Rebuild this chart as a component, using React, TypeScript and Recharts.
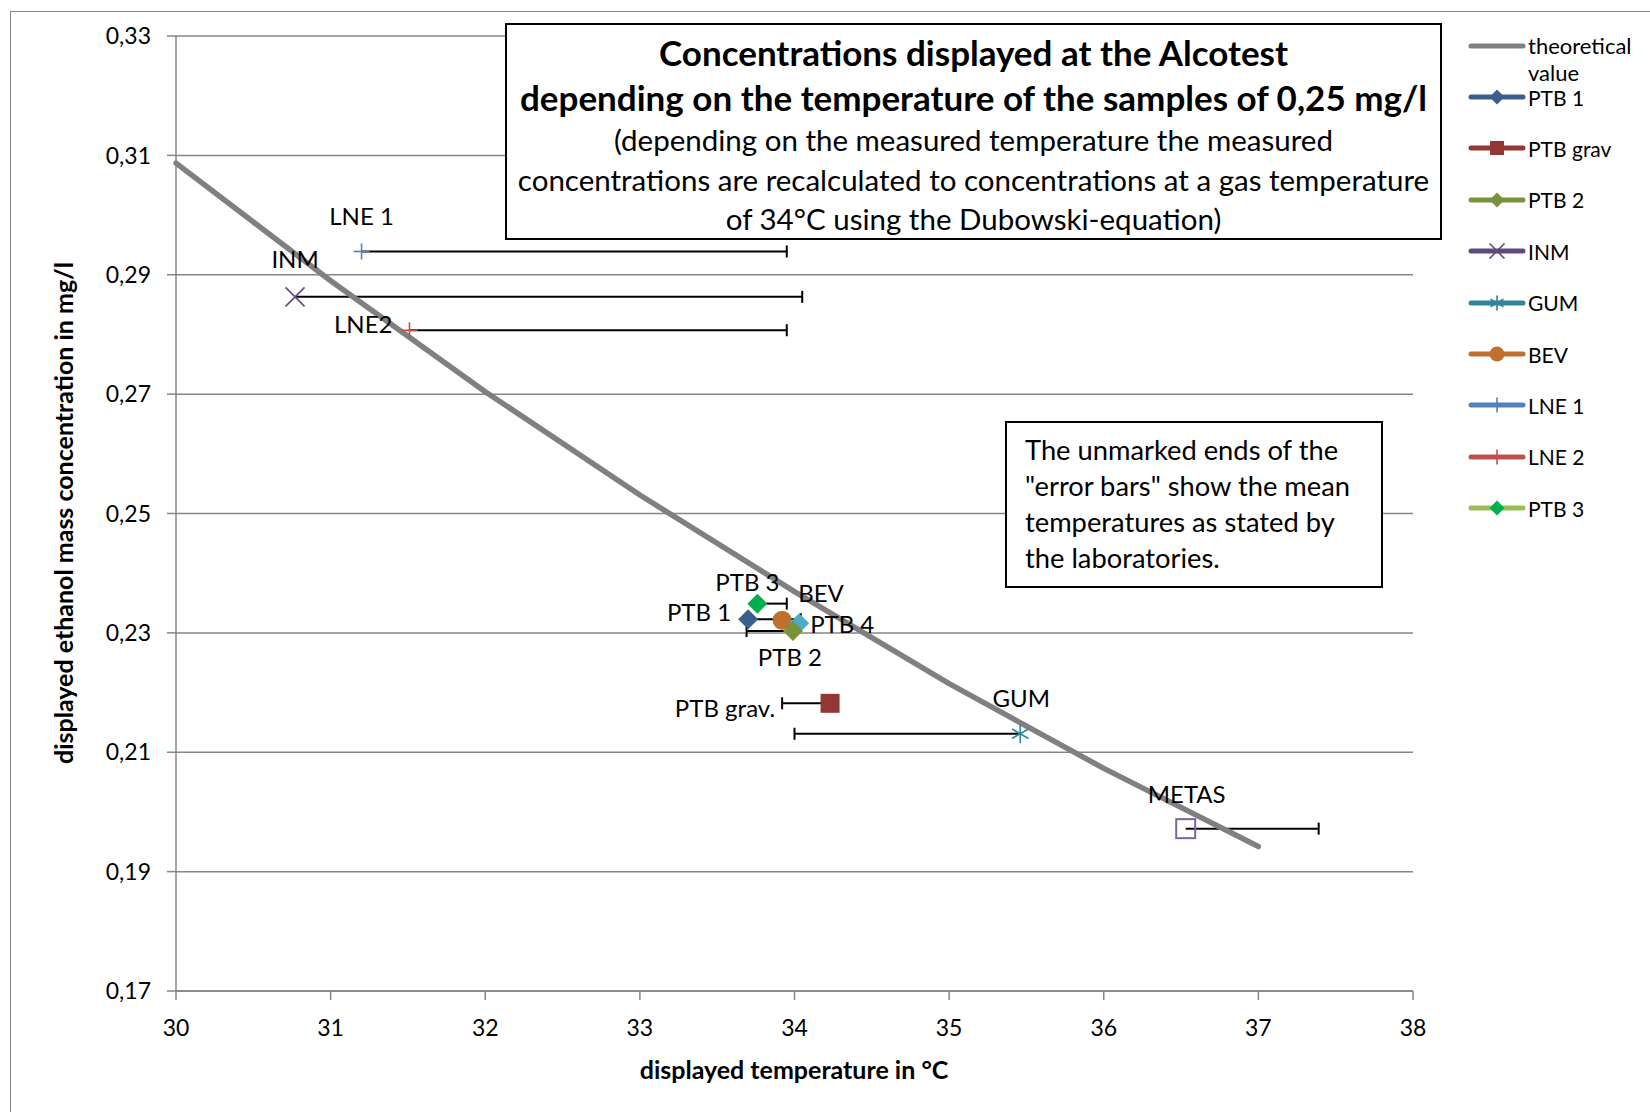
import React from "react";
import { ScatterChart, Scatter, XAxis, YAxis, CartesianGrid } from "recharts";

// theoretical curve (Dubowski), read at whole degrees
const theoryTemps = [30, 31, 32, 33, 34, 35, 36, 37];
const theoryConcs = [0.3087, 0.289, 0.2704, 0.2531, 0.2369, 0.2215, 0.2073, 0.1942];

// laboratories: displayed temperature / concentration
const labNames = ["LNE 1", "INM", "LNE2", "PTB 3", "PTB 1", "BEV", "PTB 4", "PTB 2", "PTB grav.", "GUM", "METAS"];
const labTemps = [31.2, 30.77, 31.51, 33.76, 33.7, 33.92, 34.03, 33.99, 34.23, 35.46, 36.53];
const labConcs = [0.2939, 0.2863, 0.2807, 0.2349, 0.2323, 0.2321, 0.2316, 0.2303, 0.2182, 0.2131, 0.1972];
// other end of the "error bar" = mean temperature stated by the lab
const statedTemps = [33.95, 34.05, 33.95, 33.95, 34.04, null, null, 33.69, 33.92, 34.0, 37.39];

const xTicks = [30, 31, 32, 33, 34, 35, 36, 37, 38];
const yTicks = [0.17, 0.19, 0.21, 0.23, 0.25, 0.27, 0.29, 0.31, 0.33];

const legendNames = ["PTB 1", "PTB grav", "PTB 2", "INM", "GUM", "BEV", "LNE 1", "LNE 2", "PTB 3"];

const FONT = "Lato, 'Open Sans', sans-serif";
const GRID = "#868686";

type Mark = { kind: string; color: string; line?: string };
const marks: Record<string, Mark> = {
  "LNE 1": { kind: "plus", color: "#4F81BD" },
  INM: { kind: "x", color: "#604A7B" },
  LNE2: { kind: "plus", color: "#C0504D" },
  "LNE 2": { kind: "plus", color: "#C0504D" },
  "PTB 3": { kind: "diamond", color: "#00B050", line: "#9BBB59" },
  "PTB 1": { kind: "diamond", color: "#3A5F8B" },
  BEV: { kind: "circle", color: "#C0702E" },
  "PTB 4": { kind: "diamond", color: "#4BACC6" },
  "PTB 2": { kind: "diamond", color: "#77933C" },
  "PTB grav.": { kind: "square", color: "#943634" },
  "PTB grav": { kind: "square", color: "#943634" },
  GUM: { kind: "star", color: "#31859C" },
  METAS: { kind: "hollow", color: "#8064A2" },
};

// label placement relative to the marker
const labelPos: Record<string, [number, number, "start" | "middle" | "end"]> = {
  "LNE 1": [0, -36, "middle"],
  INM: [0, -38, "middle"],
  LNE2: [-17, -7, "end"],
  "PTB 3": [-10, -22, "middle"],
  "PTB 1": [-17, -8, "end"],
  BEV: [16, -28, "start"],
  "PTB 4": [11, 0, "start"],
  "PTB 2": [-3, 25, "middle"],
  "PTB grav.": [-55, 4, "end"],
  GUM: [1, -36, "middle"],
  METAS: [1, -35, "middle"],
};

function Marker({ cx, cy, m, r }: { cx: number; cy: number; m: Mark; r: number }) {
  const c = m.color;
  switch (m.kind) {
    case "diamond":
      return <polygon points={`${cx},${cy - r} ${cx + r},${cy} ${cx},${cy + r} ${cx - r},${cy}`} fill={c} />;
    case "square":
      return <rect x={cx - r} y={cy - r} width={2 * r} height={2 * r} fill={c} />;
    case "hollow":
      return <rect x={cx - r} y={cy - r} width={2 * r} height={2 * r} fill="none" stroke={c} strokeWidth={2} />;
    case "circle":
      return <circle cx={cx} cy={cy} r={r} fill={c} />;
    case "plus":
      return (
        <g stroke={c} strokeWidth={1.6}>
          <line x1={cx - r} x2={cx + r} y1={cy} y2={cy} />
          <line x1={cx} x2={cx} y1={cy - r} y2={cy + r} />
        </g>
      );
    case "x":
      return (
        <g stroke={c} strokeWidth={1.6}>
          <line x1={cx - r} x2={cx + r} y1={cy - r} y2={cy + r} />
          <line x1={cx - r} x2={cx + r} y1={cy + r} y2={cy - r} />
        </g>
      );
    case "star":
      return (
        <g stroke={c} strokeWidth={1.6}>
          <line x1={cx} x2={cx} y1={cy - r} y2={cy + r} />
          <line x1={cx - r * 0.87} x2={cx + r * 0.87} y1={cy - r * 0.5} y2={cy + r * 0.5} />
          <line x1={cx - r * 0.87} x2={cx + r * 0.87} y1={cy + r * 0.5} y2={cy - r * 0.5} />
        </g>
      );
    default:
      return <g />;
  }
}

const theoryData = theoryTemps.map((t, i) => ({ x: t, y: theoryConcs[i] }));
const labData = labNames.map((name, i) => ({ name, x: labTemps[i], y: labConcs[i] }));

const LabShape = (props: any) => {
  const { cx, cy, payload } = props;
  const m = marks[payload.name];
  const [dx, dy, anchor] = labelPos[payload.name];
  const r = m.kind === "diamond" ? 10 : m.kind === "plus" ? 8 : 9.5;
  return (
    <g>
      <Marker cx={cx} cy={cy} m={m} r={r} />
      <text
        x={cx + dx}
        y={cy + dy}
        textAnchor={anchor}
        dominantBaseline="central"
        fontFamily={FONT}
        fontSize={24}
        fill="#000"
      >
        {payload.name}
      </text>
    </g>
  );
};

const CapShape = (props: any) => {
  const { cx, cy, payload } = props;
  if (!payload.cap) return <g />;
  return <line x1={cx} x2={cx} y1={cy - 6} y2={cy + 6} stroke="#000" strokeWidth={2} />;
};

const fmtY = (v: number) => v.toFixed(2).replace(".", ",");

function LegendSwatch({ name }: { name: string }) {
  const m = marks[name];
  return (
    <svg width={58} height={16} style={{ display: "block" }}>
      <line x1={3} x2={55} y1={8} y2={8} stroke={m.line || m.color} strokeWidth={5} strokeLinecap="round" />
      <Marker cx={29} cy={8} m={m} r={m.kind === "square" ? 7 : 7.5} />
    </svg>
  );
}

export default function App() {
  return (
    <div style={{ position: "absolute", left: 0, top: 0, width: 1650, height: 1112, background: "#fff", overflow: "hidden", fontFamily: FONT }}>
      <div style={{ position: "absolute", left: 10, top: 11, width: 1700, height: 1200, border: `1.5px solid ${GRID}` }} />
      <ScatterChart width={1650} height={1112} margin={{ top: 36, right: 237, left: 0, bottom: 61 }}>
        <CartesianGrid vertical={false} stroke={GRID} strokeWidth={1.5} />
        <XAxis
          type="number"
          dataKey="x"
          domain={[30, 38]}
          ticks={xTicks}
          height={60}
          stroke={GRID}
          strokeWidth={1.5}
          tickSize={9}
          tickMargin={20}
          tick={{ fill: "#000", fontSize: 23, fontFamily: FONT }}
        />
        <YAxis
          type="number"
          dataKey="y"
          domain={[0.17, 0.33]}
          ticks={yTicks}
          width={176}
          stroke={GRID}
          strokeWidth={1.5}
          tickSize={9}
          tickMargin={16}
          tickFormatter={fmtY}
          tick={{ fill: "#000", fontSize: 23, fontFamily: FONT }}
        />
        {labData.map((d, i) =>
          statedTemps[i] == null ? null : (
            <Scatter
              key={"bar" + i}
              data={[
                { x: d.x, y: d.y, cap: false },
                { x: statedTemps[i], y: d.y, cap: true },
              ]}
              line={{ stroke: "#000", strokeWidth: 2 }}
              lineType="joint"
              shape={CapShape}
              isAnimationActive={false}
            />
          )
        )}
        <Scatter
          data={theoryData}
          line={{ stroke: "#808080", strokeWidth: 5.5, strokeLinecap: "round", strokeLinejoin: "round" }}
          lineType="joint"
          shape={() => <g />}
          isAnimationActive={false}
        />
        <Scatter data={labData} shape={LabShape} isAnimationActive={false} />
      </ScatterChart>

      {/* axis titles */}
      <div style={{ position: "absolute", left: 544, top: 1053, width: 500, textAlign: "center", fontWeight: 700, fontSize: 25, lineHeight: "32px" }}>
        displayed temperature in °C
      </div>
      <div
        style={{
          position: "absolute",
          left: 63 - 300,
          top: 513 - 16,
          width: 600,
          textAlign: "center",
          fontWeight: 700,
          fontSize: 25,
          lineHeight: "32px",
          transform: "rotate(-90deg)",
        }}
      >
        displayed ethanol mass concentration in mg/l
      </div>

      {/* title box */}
      <div
        style={{
          position: "absolute",
          left: 505,
          top: 23,
          width: 937,
          height: 217,
          boxSizing: "border-box",
          border: "2px solid #000",
          background: "#fff",
          textAlign: "center",
          paddingTop: 5,
          color: "#000",
          whiteSpace: "nowrap",
        }}
      >
        <div style={{ fontWeight: 700, fontSize: 35, lineHeight: "45px" }}>Concentrations displayed at the Alcotest</div>
        <div style={{ fontWeight: 700, fontSize: 35, lineHeight: "45px" }}>depending on the temperature of the samples of 0,25 mg/l</div>
        <div style={{ fontSize: 29.5, lineHeight: "39.5px" }}>(depending on the measured temperature the measured</div>
        <div style={{ fontSize: 29.5, lineHeight: "39.5px" }}>concentrations are recalculated to concentrations at a gas temperature</div>
        <div style={{ fontSize: 29.5, lineHeight: "39.5px" }}>of 34°C using the Dubowski-equation)</div>
      </div>

      {/* note box */}
      <div
        style={{
          position: "absolute",
          left: 1005,
          top: 421,
          width: 378,
          height: 167,
          boxSizing: "border-box",
          border: "2px solid #000",
          background: "#fff",
          paddingTop: 9,
          paddingLeft: 18,
          fontSize: 27.3,
          lineHeight: "36px",
          color: "#000",
          whiteSpace: "nowrap",
        }}
      >
        The unmarked ends of the
        <br />
        "error bars" show the mean
        <br />
        temperatures as stated by
        <br />
        the laboratories.
      </div>

      {/* legend */}
      <div style={{ position: "absolute", left: 1468, top: 33, fontSize: 21, color: "#000" }}>
        <div style={{ display: "flex", alignItems: "flex-start", height: 51.4 }}>
          <svg width={58} height={16} style={{ display: "block", marginTop: 5 }}>
            <line x1={3} x2={55} y1={8} y2={8} stroke="#808080" strokeWidth={5} strokeLinecap="round" />
          </svg>
          <div style={{ lineHeight: "27px", marginTop: -1, marginLeft: 2, fontSize: 22 }}>
            theoretical
            <br />
            value
          </div>
        </div>
        {legendNames.map((n) => (
          <div key={n} style={{ display: "flex", alignItems: "center", height: 51.4, marginTop: n === "PTB 1" ? -13 : 0 }}>
            <LegendSwatch name={n} />
            <span style={{ marginLeft: 2 }}>{n}</span>
          </div>
        ))}
      </div>
    </div>
  );
}
